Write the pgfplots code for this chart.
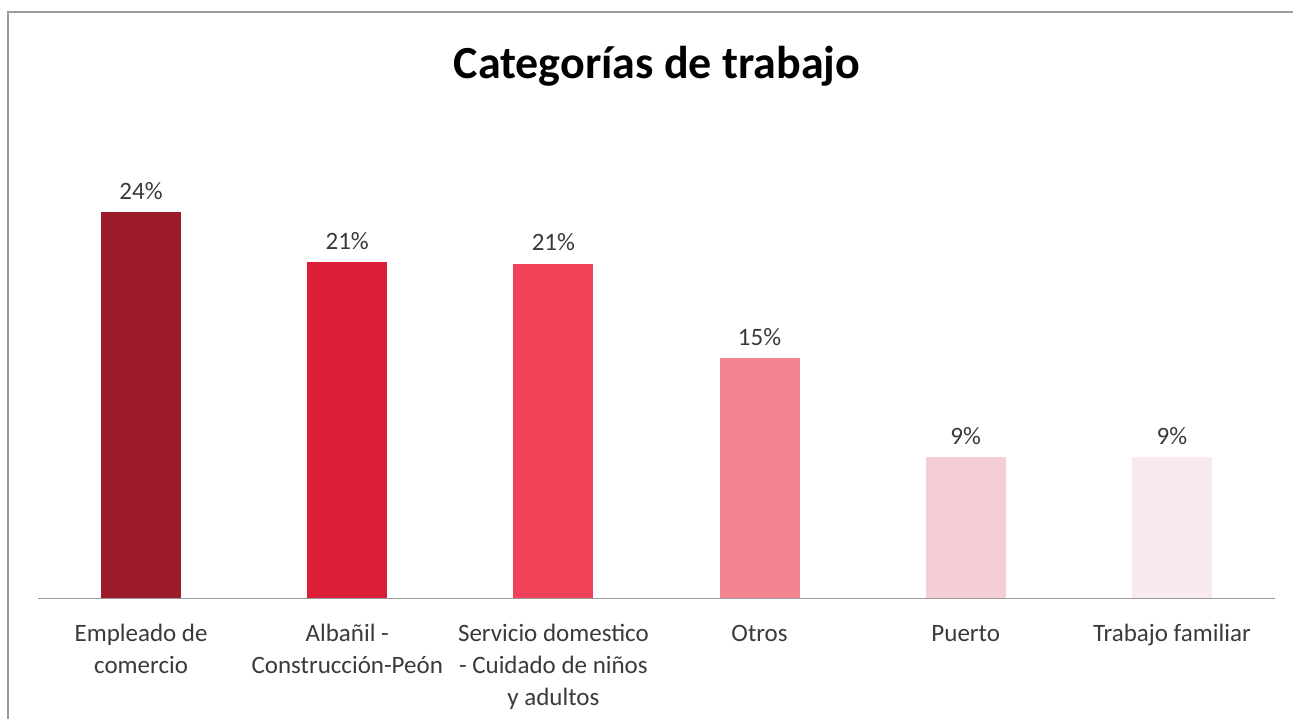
\documentclass[border=0pt]{standalone}
\usepackage{fontspec}
\setmainfont{Carlito}
\usepackage{pgfplots}
\pgfplotsset{compat=1.18}
\definecolor{barA}{HTML}{9B1B2B}
\definecolor{barB}{HTML}{DA1F37}
\definecolor{barC}{HTML}{F2425A}
\definecolor{barD}{HTML}{F4848F}
\definecolor{barE}{HTML}{F5CDD6}
\definecolor{barF}{HTML}{F9EAEE}
\definecolor{txt}{HTML}{3A3A3A}
\definecolor{frame}{HTML}{9A9A9A}

\begin{document}
\begin{tikzpicture}
  \useasboundingbox (0pt,0pt) rectangle (1293pt,-719pt);
  \draw[frame, line width=1.2pt] (8pt,-12pt) rectangle (1300pt,-730pt);
  \node[font=\fontsize{46}{52}\selectfont\bfseries, text=black] at (657pt,-66pt) {Categorías de trabajo};
  \begin{axis}[
    at={(38pt,-598pt)}, anchor=south west,
    scale only axis,
    width=1237pt, height=468pt,
    xmin=-0.5, xmax=5.5,
    ymin=0, ymax=29.25,
    axis x line*=bottom,
    hide y axis,
    axis line style={frame, line width=1pt, -},
    xtick={0,1,2,3,4,5},
    xticklabels={\strut Empleado de\\comercio, \strut Albañil -\\Construcción-Peón, \strut Servicio domestico\\- Cuidado de niños\\y adultos, \strut Otros, \strut Puerto, \strut Trabajo familiar},
    major tick length=0pt,
    xticklabel style={font=\fontsize{25}{32}\selectfont, text=txt, align=center, anchor=north, yshift=-18pt},
    ybar, bar width=80pt, bar shift=0pt,
    nodes near coords={\pgfmathprintnumber[fixed,precision=0,assume math mode=true]{\pgfplotspointmeta}\%},
    every node near coord/.append style={font=\fontsize{25}{30}\selectfont, text=txt, yshift=9pt},
    clip=false,
  ]
    \addplot[draw=none, fill=barA] coordinates {(0,24.1)};
    \addplot[draw=none, fill=barB] coordinates {(1,21.0)};
    \addplot[draw=none, fill=barC] coordinates {(2,20.9)};
    \addplot[draw=none, fill=barD] coordinates {(3,15.0)};
    \addplot[draw=none, fill=barE] coordinates {(4,8.8)};
    \addplot[draw=none, fill=barF] coordinates {(5,8.8)};
  \end{axis}
\end{tikzpicture}
\end{document}
